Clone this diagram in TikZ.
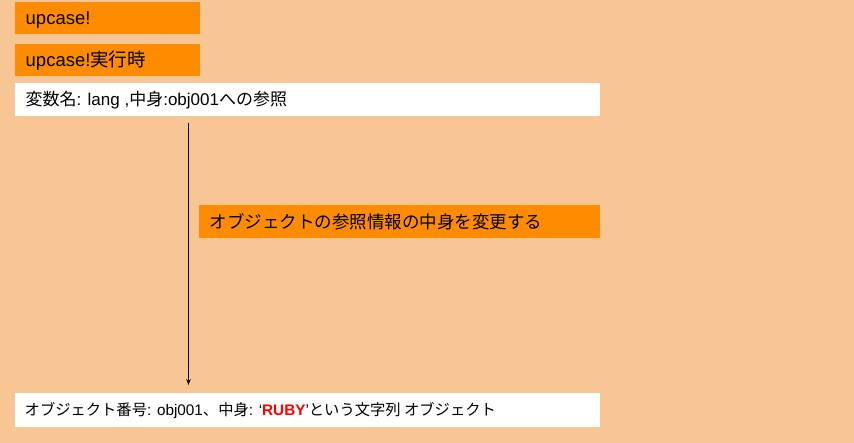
\documentclass[tikz,border=0pt]{standalone}
\usepackage{fontspec}
\setmainfont{Liberation Sans}
\newfontfamily\cjk{Noto Sans CJK JP}
\usetikzlibrary{arrows.meta}
\definecolor{bgc}{HTML}{F8C594}
\definecolor{orb}{HTML}{FF8C00}
\definecolor{rubyred}{HTML}{FF0000}
\tikzset{
  box/.style={anchor=north west, inner sep=0pt, outer sep=0pt},
  obox/.style={box, fill=orb},
  wbox/.style={box, fill=white},
  txt/.style={anchor=base west, inner sep=0pt, xshift=10.5pt},
  arr/.style={draw=black, line width=0.8pt, -{Stealth[length=6pt,width=4.5pt]}},
}
\begin{document}
\begin{tikzpicture}[x=1pt,y=1pt]
\fill[bgc] (0,0) rectangle (854,-443);
\useasboundingbox (0,0) rectangle (854,-443);
\node[obox, minimum width=185pt, minimum height=32pt] (b1) at (15,-2) {};
\node[txt, yshift=-7pt, font=\fontsize{18.5}{20}\selectfont] (t1) at (b1.west) {upcase!};
\node[obox, minimum width=185pt, minimum height=32pt] (b2) at (15,-44) {};
\node[txt, yshift=-7pt, font=\fontsize{18.5}{20}\selectfont] (t2) at (b2.west) {upcase!{\cjk 実行時}};
\node[wbox, minimum width=585pt, minimum height=33pt] (b3) at (15,-83) {};
\node[txt, yshift=-6.3pt, font=\fontsize{17}{18}\selectfont] (t3) at (b3.west) {{\cjk 変数名}: lang ,{\cjk 中身}:obj001{\cjk への参照}};
\node[obox, minimum width=401pt, minimum height=33pt] (b4) at (199,-205) {};
\node[txt, yshift=-6.6pt, font=\fontsize{17.5}{19}\selectfont] (t4) at (b4.west) {{\cjk オブジェクトの参照情報の中身を変更する}};
\node[wbox, minimum width=585pt, minimum height=34pt] (b5) at (15,-393) {};
\node[txt, xshift=-1pt, yshift=-5.8pt, font=\fontsize{15.3}{17}\selectfont] (t5) at (b5.west) {{\cjk オブジェクト番号}: obj001{\cjk 、中身}: ‘{\color{rubyred}\bfseries RUBY}’{\cjk という文字列 オブジェクト}};
\coordinate (ax) at (188.5,0);
\draw[arr, shorten <=7pt, shorten >=8pt] (b3.south -| ax) -- (b5.north -| ax);
\end{tikzpicture}
\end{document}
